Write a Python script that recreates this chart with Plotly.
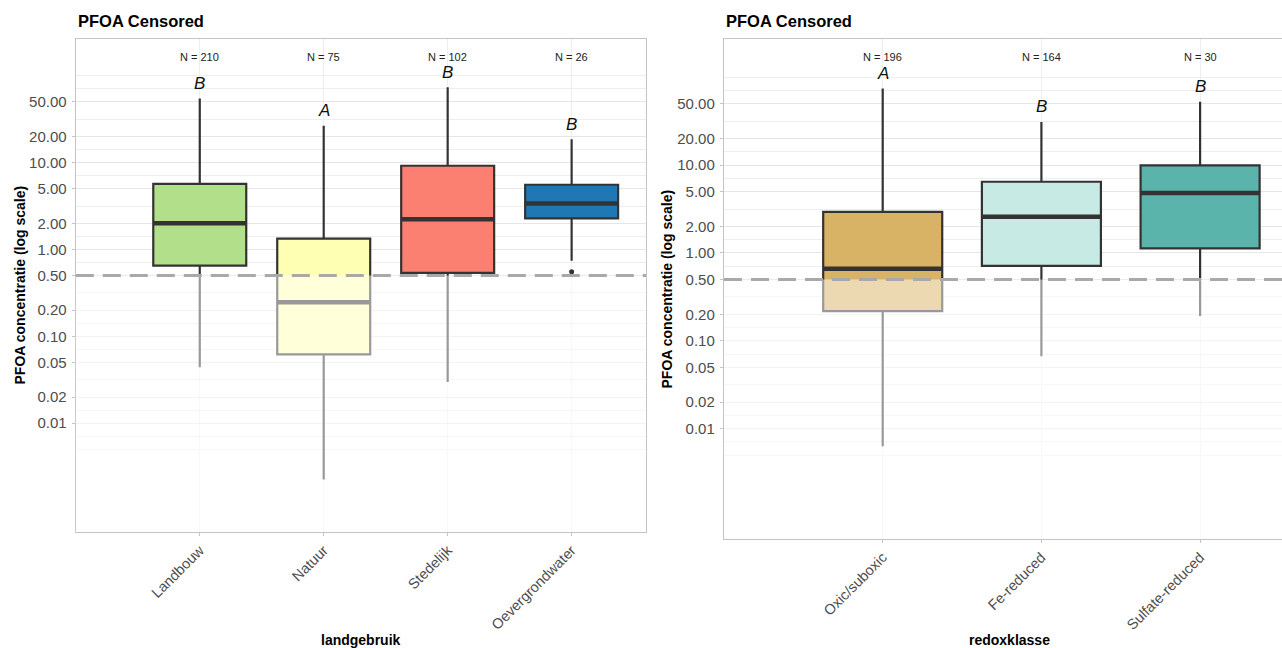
import math
import plotly.graph_objects as go

# ---------------- data ----------------
land_cats = ["Landbouw", "Natuur", "Stedelijk", "Oevergrondwater"]
land_q1 = [0.65, 0.062, 0.537, 2.28]
land_med = [2.0, 0.247, 2.22, 3.39]
land_q3 = [5.7, 1.33, 9.2, 5.56]
land_lo = [0.044, 0.00224, 0.0297, 0.743]
land_hi = [54.6, 26.5, 73.8, 18.6]
land_n = [210, 75, 102, 26]
land_letters = ["B", "A", "B", "B"]
land_colors = ["#B2DF8A", "#FFFFB3", "#FB8072", "#1F78B4"]
land_out_cat = ["Oevergrondwater"]
land_out_val = [0.552]

redox_cats = ["Oxic/suboxic", "Fe-reduced", "Sulfate-reduced"]
redox_q1 = [0.218, 0.714, 1.13]
redox_med = [0.66, 2.58, 4.81]
redox_q3 = [2.94, 6.47, 9.93]
redox_lo = [0.0063, 0.0668, 0.192]
redox_hi = [74.8, 31.0, 52.8]
redox_n = [196, 164, 30]
redox_letters = ["A", "B", "B"]
redox_colors = ["#D8B365", "#C7EAE5", "#5AB4AC"]

labelled_breaks = [0.01, 0.02, 0.05, 0.1, 0.2, 0.5, 1, 2, 5, 10, 20, 50]
unlabelled_breaks = [0.005, 100]
censor_limit = 0.5

panel_title = "PFOA Censored"
y_title = "PFOA concentratie (log scale)"
x_title_land = "landgebruik"
x_title_redox = "redoxklasse"

# ---------------- style ----------------
FONT = "Liberation Sans, Arial, Helvetica, sans-serif"
W, H = 1282, 648
DARK = "#333333"
GRID = "#e6e6e6"
MINOR = "#eeeeee"
BORDER = "#c4c4c4"
TXT = "#4d4d4d"

tick_text = [f"{v:.2f}" for v in labelled_breaks]
all_breaks = sorted(labelled_breaks + unlabelled_breaks)
minor_vals = [math.sqrt(a * b) for a, b in zip(all_breaks[:-1], all_breaks[1:])] + unlabelled_breaks

fig = go.Figure()


def add_panel(xa, ya, cats, q1, med, q3, lo, hi, colors):
    for c, a, m, b, l, h, col in zip(cats, q1, med, q3, lo, hi, colors):
        fig.add_trace(go.Box(
            x=[c], q1=[a], median=[m], q3=[b], lowerfence=[l], upperfence=[h],
            fillcolor=col, line=dict(color=DARK, width=2.2), width=0.75,
            whiskerwidth=0, boxpoints=False, showlegend=False, hoverinfo="skip",
            xaxis=xa, yaxis=ya))
        # thicker median bar (ggplot fatten)
        fig.add_trace(go.Box(
            x=[c], q1=[m], median=[m], q3=[m], lowerfence=[m], upperfence=[m],
            fillcolor="rgba(0,0,0,0)", line=dict(color=DARK, width=4.5), width=0.75,
            whiskerwidth=0, boxpoints=False, showlegend=False, hoverinfo="skip",
            xaxis=xa, yaxis=ya))


add_panel("x", "y", land_cats, land_q1, land_med, land_q3, land_lo, land_hi, land_colors)
add_panel("x2", "y2", redox_cats, redox_q1, redox_med, redox_q3, redox_lo, redox_hi, redox_colors)

fig.add_trace(go.Scatter(x=land_out_cat, y=land_out_val, mode="markers",
                         marker=dict(color=DARK, size=5), showlegend=False,
                         hoverinfo="skip", xaxis="x", yaxis="y"))

common_x = dict(type="category", showgrid=True, gridcolor=MINOR, gridwidth=1,
                showline=True, linecolor=BORDER, linewidth=1.2, ticks="outside",
                ticklen=3, tickcolor=BORDER, tickangle=-45, zeroline=False,
                tickfont=dict(family=FONT, size=14.5, color=TXT), automargin=False,
                fixedrange=True)
common_y = dict(type="log", tickvals=labelled_breaks, ticktext=tick_text,
                showgrid=True, gridcolor=GRID, gridwidth=1,
                minor=dict(tickvals=minor_vals, showgrid=True, gridcolor=MINOR,
                           gridwidth=1, ticks=""),
                showline=True, linecolor=BORDER, linewidth=1.2, ticks="outside",
                ticklen=3, tickcolor=BORDER, zeroline=False, ticklabelstandoff=2,
                tickfont=dict(family=FONT, size=15, color=TXT), automargin=False,
                fixedrange=True)

L_x0, L_x1 = 75.8, 646
R_x0, R_x1 = 724, W
L_top, L_bot = 39, 532
R_top, R_bot = 39, 539

fig.update_layout(
    width=W, height=H,
    margin=dict(l=0, r=0, t=0, b=0),
    paper_bgcolor="white", plot_bgcolor="white",
    boxmode="overlay",
    font=dict(family=FONT, color=TXT),
    xaxis=dict(common_x, domain=[L_x0 / W, L_x1 / W], anchor="y",
               categoryorder="array", categoryarray=land_cats,
               range=[-1, 3.6], mirror=True),
    yaxis=dict(common_y, domain=[1 - L_bot / H, 1 - L_top / H], anchor="x",
               range=[-3.253, 2.423], mirror=True),
    xaxis2=dict(common_x, domain=[R_x0 / W, 1.0], anchor="y2",
                categoryorder="array", categoryarray=redox_cats,
                range=[-1, 2.516], mirror=True),
    yaxis2=dict(common_y, domain=[1 - R_bot / H, 1 - R_top / H], anchor="x2",
                range=[-3.256, 2.436], mirror=False),
)

# censored region veil + detection limit line
for xr, yr in (("x", "y"), ("x2", "y2")):
    fig.add_shape(type="rect", xref=f"{xr} domain", yref=yr, x0=0, x1=1,
                  y0=1e-4, y1=censor_limit, fillcolor="white", opacity=0.5,
                  line=dict(width=0), layer="above")
    fig.add_shape(type="line", xref=f"{xr} domain", yref=yr, x0=0, x1=1,
                  y0=censor_limit, y1=censor_limit, layer="above",
                  line=dict(color="#a9a9a9", width=3, dash="18px,9px"))

ann = []


def panel_annotations(xr, yr, cats, hi, ns, letters, ytop_px, ybot_px):
    dom_h = ybot_px - ytop_px
    for c, h, n, let in zip(cats, hi, ns, letters):
        ann.append(dict(x=c, y=1 - 18 / dom_h, xref=xr, yref=f"{yr} domain",
                        text=f"N = {n}", showarrow=False, yanchor="middle",
                        font=dict(family=FONT, size=11, color="#222222")))
        ann.append(dict(x=c, y=math.log10(h), xref=xr, yref=yr, text=f"<i>{let}</i>",
                        showarrow=False, yanchor="middle", yshift=15,
                        font=dict(family=FONT, size=17, color="#111111")))


panel_annotations("x", "y", land_cats, land_hi, land_n, land_letters, L_top, L_bot)
panel_annotations("x2", "y2", redox_cats, redox_hi, redox_n, redox_letters, R_top, R_bot)

for x0, x1, top, bot, ytx, xt in ((L_x0, L_x1, L_top, L_bot, 19, x_title_land),
                                  (R_x0, 1295, R_top, R_bot, 666.5, x_title_redox)):
    ann.append(dict(x=x0 / W, y=1 - 21 / H, xref="paper", yref="paper", text=f"<b>{panel_title}</b>",
                    showarrow=False, xanchor="left", yanchor="middle",
                    font=dict(family=FONT, size=16.5, color="#000000")))
    ann.append(dict(x=ytx / W, y=1 - (top + bot) / 2 / H, xref="paper", yref="paper",
                    text=f"<b>{y_title}</b>", textangle=-90, showarrow=False,
                    xanchor="center", yanchor="middle",
                    font=dict(family=FONT, size=14, color="#000000")))
    ann.append(dict(x=(x0 + x1) / 2 / W, y=1 - 640 / H, xref="paper", yref="paper",
                    text=f"<b>{xt}</b>", showarrow=False, xanchor="center", yanchor="middle",
                    font=dict(family=FONT, size=14, color="#000000")))

fig.update_layout(annotations=ann)
fig.write_html("out.html",
               config={"displayModeBar": False, "staticPlot": True},
               post_script="document.body.style.margin='0';document.body.style.overflow='hidden';")
